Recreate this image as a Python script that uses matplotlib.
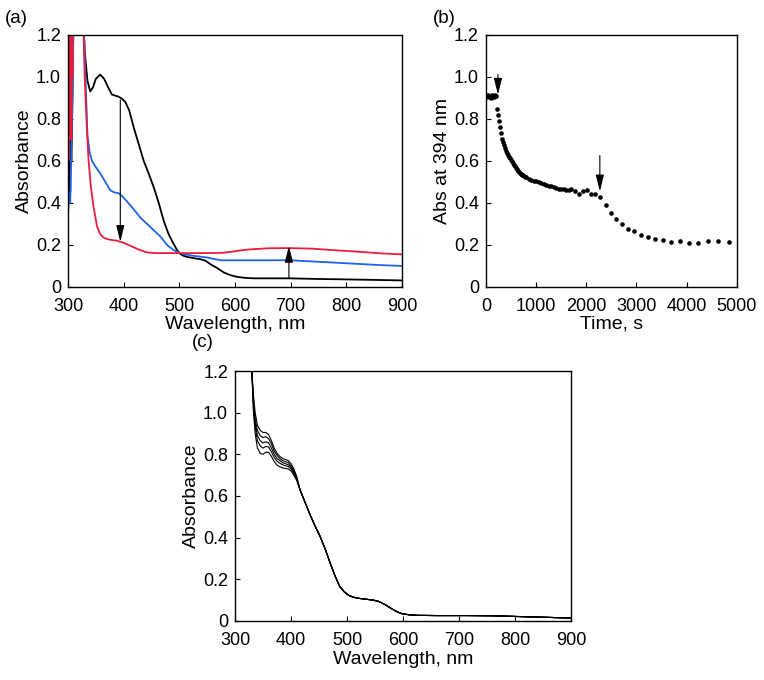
import matplotlib
matplotlib.use("Agg")
from matplotlib import pyplot as plt

plt.rcParams['font.family'] = ['Liberation Sans', 'DejaVu Sans']

# ---- panel (a): UV-vis spectra ----
wl_black = [300, 301, 302, 303, 304, 305, 306, 307, 308, 310, 315, 325, 330, 335, 340, 345,
            350, 358, 365, 372, 379, 385, 391, 397, 403, 410, 418, 427, 436, 445, 454, 463,
            472, 481, 490, 496, 502, 508, 514, 526, 538, 547, 556, 568, 580, 592, 604, 619,
            634, 660, 698, 750, 800, 861, 900]
abs_black = [0.33, 0.5, 0.42, 0.7, 0.45, 0.73, 0.6, 0.73, 0.9, 1.3, 1.6, 1.5, 1.12, 0.98,
             0.93, 0.95, 0.99, 1.01, 0.99, 0.95, 0.915, 0.91, 0.905, 0.895, 0.88, 0.84, 0.76,
             0.68, 0.60, 0.54, 0.475, 0.40, 0.315, 0.25, 0.204, 0.175, 0.156, 0.148, 0.143,
             0.137, 0.132, 0.125, 0.108, 0.09, 0.069, 0.056, 0.048, 0.043, 0.041, 0.041,
             0.041, 0.038, 0.036, 0.033, 0.031]

wl_blue = [300, 302, 304, 306, 308, 310, 315, 325, 330, 335, 339, 343, 350, 358, 367, 376,
           383, 391, 398, 405, 418, 430, 442, 454, 466, 478, 490, 502, 514, 526, 550, 574,
           598, 634, 698, 777, 861, 900]
abs_blue = [0.35, 0.45, 0.4, 0.65, 0.9, 1.3, 1.6, 1.5, 1.1, 0.72, 0.64, 0.60, 0.57, 0.54,
            0.50, 0.46, 0.45, 0.446, 0.43, 0.41, 0.37, 0.33, 0.30, 0.27, 0.24, 0.20, 0.175,
            0.16, 0.153, 0.148, 0.14, 0.127, 0.127, 0.127, 0.127, 0.116, 0.104, 0.10]

wl_red = [300, 301, 302, 303, 304, 305, 306, 307, 308, 309, 310, 315, 325, 330, 334, 337,
          341, 346, 352, 358, 364, 370, 379, 388, 400, 412, 427, 442, 460, 478, 502, 538,
          575, 590, 605, 620, 634, 660, 695, 740, 777, 820, 861, 900]
abs_red = [0.45, 1.1, 0.6, 1.25, 0.8, 1.3, 0.7, 1.25, 1.0, 1.3, 1.4, 1.6, 1.5, 1.0, 0.75,
           0.6, 0.48, 0.38, 0.29, 0.25, 0.235, 0.228, 0.223, 0.22, 0.21, 0.196, 0.178,
           0.164, 0.161, 0.161, 0.161, 0.161, 0.162, 0.166, 0.172, 0.177, 0.18, 0.184,
           0.185, 0.182, 0.175, 0.168, 0.16, 0.155]

# ---- panel (b): kinetics at 394 nm ----
time_s = [0, 20, 40, 60, 80, 100, 120, 140, 160, 180, 200,
          220, 240, 260, 280, 300, 320, 340, 360, 380, 400, 420, 440, 460, 480, 500,
          520, 540, 560, 580, 600, 620, 640, 660, 680, 700, 720, 740, 760, 780, 800,
          850, 900, 950, 1000, 1050, 1100, 1150, 1200, 1250, 1300, 1350, 1400, 1450,
          1500, 1550, 1600, 1650, 1700, 1780, 1846, 1932, 2012, 2092, 2178, 2278,
          2384, 2490, 2596, 2709, 2835, 2955, 3088, 3227, 3373, 3526, 3692, 3858,
          4037, 4216, 4416, 4615, 4834]
abs_394 = [0.905, 0.91, 0.912, 0.905, 0.91, 0.90, 0.915, 0.91, 0.905, 0.912, 0.91,
           0.845, 0.82, 0.79, 0.76, 0.73, 0.705, 0.69, 0.675, 0.66, 0.648, 0.638, 0.628,
           0.62, 0.612, 0.605, 0.597, 0.59, 0.582, 0.575, 0.567, 0.56, 0.553, 0.548,
           0.543, 0.538, 0.534, 0.531, 0.527, 0.524, 0.521,
           0.515, 0.51, 0.506, 0.503, 0.50, 0.495, 0.49, 0.486, 0.482, 0.478, 0.474,
           0.47, 0.468, 0.466, 0.464, 0.462, 0.462, 0.466, 0.455, 0.44, 0.456, 0.459,
           0.443, 0.443, 0.43, 0.392, 0.354, 0.324, 0.30, 0.277, 0.265, 0.249, 0.239,
           0.226, 0.223, 0.212, 0.217, 0.209, 0.207, 0.22, 0.217, 0.212]

# ---- panel (c): repeated spectra ----
wl_c = [330, 333, 336, 340, 345, 350, 355, 360, 365, 370, 375, 380, 385, 390, 395, 400,
        405, 410, 416, 425, 434, 443, 452, 461, 470, 478, 487, 495, 502, 510, 520, 535,
        547, 556, 562, 570, 580, 590, 598, 610, 624, 660, 714, 760, 797, 850, 900]
tail_c = [0.63, 0.57, 0.51, 0.455, 0.405, 0.345, 0.277, 0.22, 0.165, 0.14, 0.125, 0.115,
          0.109, 0.104, 0.10, 0.094, 0.087, 0.075, 0.058, 0.043, 0.035, 0.03, 0.027,
          0.026, 0.026, 0.025, 0.022, 0.018, 0.014]
head_c = [
    [1.2, 1.08, 1.0, 0.94, 0.915, 0.905, 0.905, 0.895, 0.865, 0.83, 0.805, 0.79, 0.78,
     0.775, 0.77, 0.755, 0.73, 0.695],
    [1.2, 1.06, 0.97, 0.915, 0.89, 0.88, 0.885, 0.875, 0.85, 0.815, 0.795, 0.78, 0.77,
     0.765, 0.76, 0.745, 0.72, 0.69],
    [1.2, 1.04, 0.95, 0.89, 0.865, 0.855, 0.86, 0.855, 0.83, 0.80, 0.78, 0.77, 0.76,
     0.755, 0.75, 0.738, 0.715, 0.685],
    [1.2, 1.02, 0.93, 0.865, 0.84, 0.83, 0.838, 0.835, 0.812, 0.785, 0.767, 0.757, 0.75,
     0.745, 0.742, 0.73, 0.71, 0.68],
    [1.2, 1.0, 0.90, 0.83, 0.805, 0.80, 0.81, 0.81, 0.79, 0.765, 0.748, 0.74, 0.735,
     0.732, 0.73, 0.72, 0.70, 0.675],
]

y_ticks = [0, 0.2, 0.4, 0.6, 0.8, 1.0, 1.2]
y_labels = ['0', '0.2', '0.4', '0.6', '0.8', '1.0', '1.2']
wl_ticks = [300, 400, 500, 600, 700, 800, 900]
t_ticks = [0, 1000, 2000, 3000, 4000, 5000]

RED = '#ec1c3c'
BLUE = '#1f62e6'
TICK_FS = 13
LABEL_FS = 14


def style(ax):
    ax.tick_params(direction='in', length=3.5, width=0.8, labelsize=TICK_FS)
    ax.tick_params(axis='x', pad=8)
    ax.tick_params(axis='y', pad=5)
    ax.set_yticks(y_ticks)
    ax.set_yticklabels(y_labels)
    ax.set_ylim(0, 1.2)
    for s in ax.spines.values():
        s.set_linewidth(1.0)


fig = plt.figure(figsize=(7.64, 6.80), dpi=100)

ax_a = fig.add_axes([0.089, 0.578, 0.437, 0.371])
ax_a.plot(wl_black, abs_black, color='black', lw=1.3)
ax_a.plot(wl_blue, abs_blue, color=BLUE, lw=1.3)
ax_a.plot(wl_red, abs_red, color=RED, lw=1.3)
ax_a.set_xlim(300, 900)
ax_a.set_xticks(wl_ticks)
style(ax_a)
ax_a.set_xlabel('Wavelength, nm', fontsize=LABEL_FS, labelpad=0.5)
ax_a.set_ylabel('Absorbance', fontsize=LABEL_FS, labelpad=2)
arrow = dict(arrowstyle='-|>,head_length=1.0,head_width=0.25', color='black', lw=0.8,
             shrinkA=0, shrinkB=0)
ax_a.annotate('', xy=(394, 0.215), xytext=(394, 0.89), arrowprops=arrow)
ax_a.annotate('', xy=(697, 0.195), xytext=(697, 0.04), arrowprops=arrow)
fig.text(0.007, 0.973, '(a)', fontsize=13.5, va='center')

ax_b = fig.add_axes([0.636, 0.578, 0.3285, 0.371])
ax_b.plot(time_s, abs_394, 'o', color='black', ms=3.3, mew=0)
ax_b.set_xlim(0, 5000)
ax_b.set_xticks(t_ticks)
style(ax_b)
ax_b.set_xlabel('Time, s', fontsize=LABEL_FS, labelpad=0.5)
ax_b.set_ylabel('Abs at 394 nm', fontsize=LABEL_FS, labelpad=2)
ax_b.annotate('', xy=(240, 0.915), xytext=(240, 1.01), arrowprops=arrow)
ax_b.annotate('', xy=(2270, 0.455), xytext=(2270, 0.625), arrowprops=arrow)
fig.text(0.567, 0.973, '(b)', fontsize=13.5, va='center')

ax_c = fig.add_axes([0.3076, 0.0868, 0.44, 0.3676])
for head in head_c:
    ax_c.plot(wl_c, head + tail_c, color='black', lw=0.8)
ax_c.set_xlim(300, 900)
ax_c.set_xticks(wl_ticks)
style(ax_c)
ax_c.set_xlabel('Wavelength, nm', fontsize=LABEL_FS, labelpad=1.5)
ax_c.set_ylabel('Absorbance', fontsize=LABEL_FS, labelpad=2)
fig.text(0.251, 0.497, '(c)', fontsize=13.5, va='center')

fig.savefig('out.png', dpi=100)
